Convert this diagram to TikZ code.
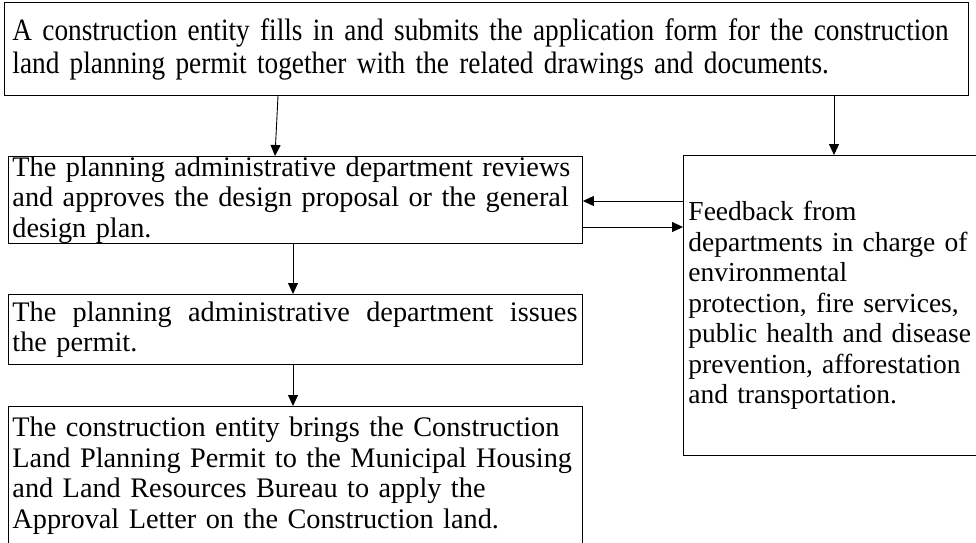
\documentclass[tikz,border=0pt]{standalone}
\usepackage{fontspec}
\setmainfont{Liberation Serif}
\newfontfamily\narrowserif[FakeStretch=0.88]{Liberation Serif}
\usetikzlibrary{arrows.meta}
\begin{document}
\begin{tikzpicture}[x=1pt,y=-1pt,
  box/.style={draw, line width=0.9pt, rectangle, inner ysep=0pt, align=left, anchor=north west},
  arr/.style={-{Triangle[length=11pt,width=10pt]}, line width=0.9pt},
  bodyfont/.style={font=\fontsize{28.3}{30.5}\selectfont},
  sidefont/.style={font=\fontsize{27.5}{30.5}\selectfont}]
\useasboundingbox (0,0) rectangle (976,542);
\node[box, minimum width=964pt, minimum height=93pt, text width=948pt, inner xsep=8pt,
      font=\narrowserif\fontsize{31}{33}\selectfont] (top) at (4,2)
  {A construction entity fills in and submits the application form for the construction\\
   land planning permit together with the related drawings and documents.};
\node[box, bodyfont, minimum width=574pt, minimum height=87pt, text width=566pt, inner xsep=4pt] (b2) at (8,156)
  {The planning administrative department reviews\\
   and approves the design proposal or the general\\
   design plan.};
\node[box, bodyfont, minimum width=574pt, minimum height=70pt, text width=566pt, inner xsep=4pt] (b3) at (8,294)
  {\hbox to 565pt{The\hfill planning\hfill administrative\hfill department\hfill issues}\\
   the permit.};
\node[box, bodyfont, minimum width=574pt, minimum height=138pt, text width=566pt, inner xsep=4pt] (b4) at (8,406)
  {The construction entity brings the Construction\\
   Land Planning Permit to the Municipal Housing\\
   and Land Resources Bureau to apply the\\
   Approval Letter on the Construction land.};
\node[box, sidefont, minimum width=310pt, minimum height=300pt, text width=300pt, inner xsep=5pt] (fb) at (683,155)
  {Feedback from\\
   departments in charge of\\
   environmental\\
   protection, fire services,\\
   public health and disease\\
   prevention, afforestation\\
   and transportation.};
\coordinate (fbin) at ([yshift=-46pt]fb.north west);
\coordinate (fbout) at ([yshift=-72pt]fb.north west);
\draw[arr] ([xshift=274pt]top.south west) -- ([xshift=267pt]b2.north west);
\draw[arr] ([xshift=830pt]top.south west) -- ([xshift=151pt]fb.north west);
\draw[arr] (fbin) -- (fbin -| b2.east);
\draw[arr] (fbout -| b2.east) -- (fbout);
\draw[arr] ([xshift=285pt]b2.south west) -- ([xshift=285pt]b3.north west);
\draw[arr] ([xshift=285pt]b3.south west) -- ([xshift=285pt]b4.north west);
\end{tikzpicture}
\end{document}
